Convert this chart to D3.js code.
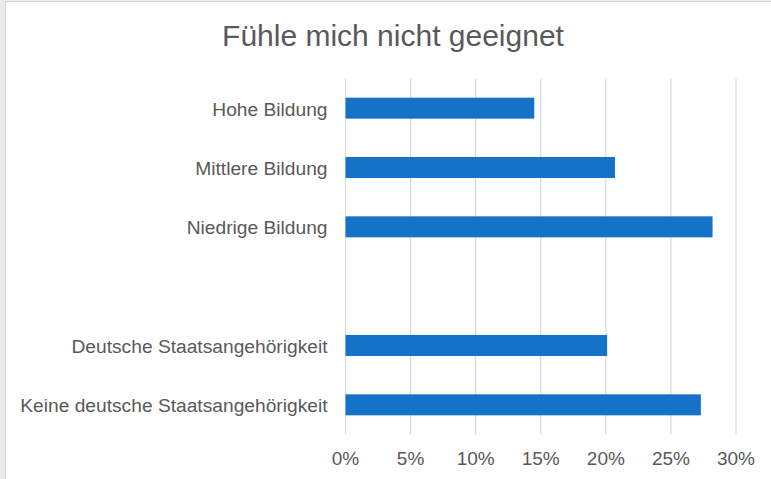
<!DOCTYPE html>
<html>
<head>
<meta charset="utf-8">
<script src="https://cdn.jsdelivr.net/npm/d3@7"></script>
<style>
  html, body { margin: 0; padding: 0; background: #ebebeb; }
  svg { display: block; }
</style>
</head>
<body>
<svg id="chart" width="771" height="479"></svg>
<script>
const categories = ["Hohe Bildung", "Mittlere Bildung", "Niedrige Bildung", "", "Deutsche Staatsangehörigkeit", "Keine deutsche Staatsangehörigkeit"];
const values = [14.5, 20.7, 28.2, null, 20.1, 27.3];
const tickValues = [0, 5, 10, 15, 20, 25, 30];
const tickLabels = ["0%", "5%", "10%", "15%", "20%", "25%", "30%"];
const title = "Fühle mich nicht geeignet";

const svg = d3.select("#chart");
const W = 771, H = 479;
const font = "'Liberation Sans', Arial, Helvetica, sans-serif";
const textColor = "#595959";

// background with frame
svg.append("rect").attr("x", 0).attr("y", 0).attr("width", W).attr("height", H).attr("fill", "#ebebeb");
svg.append("rect").attr("x", 5.5).attr("y", 1.5).attr("width", W).attr("height", H).attr("fill", "#ffffff")
  .attr("stroke", "#d6d6d6").attr("stroke-width", 1);

const plot = { left: 345.5, right: 736, top: 78.5, bottom: 434.5 };

const x = d3.scaleLinear().domain([0, 30]).range([plot.left, plot.right]);
const y = d3.scaleBand().domain(categories).range([plot.top, plot.bottom])
  .paddingInner(0.646).paddingOuter(0.323);

// gridlines
svg.append("g").selectAll("line").data(tickValues).join("line")
  .attr("x1", d => x(d)).attr("x2", d => x(d))
  .attr("y1", plot.top).attr("y2", plot.bottom)
  .attr("stroke", "#d9d9d9").attr("stroke-width", 1.2);

// bars
const data = categories.map((c, i) => ({ c, v: values[i] })).filter(d => d.v != null);
svg.append("g").selectAll("rect").data(data).join("rect")
  .attr("x", x(0))
  .attr("y", d => y(d.c))
  .attr("width", d => x(d.v) - x(0))
  .attr("height", y.bandwidth())
  .attr("fill", "#1573c7");

// category labels
svg.append("g").selectAll("text").data(categories.filter(c => c !== "")).join("text")
  .attr("x", plot.left - 18)
  .attr("y", d => y(d) + y.bandwidth() / 2 + 7.5)
  .attr("text-anchor", "end")
  .attr("font-family", font).attr("font-size", 19.2)
  .attr("fill", textColor)
  .text(d => d);

// x tick labels
svg.append("g").selectAll("text").data(tickValues).join("text")
  .attr("x", d => x(d))
  .attr("y", 465)
  .attr("text-anchor", "middle")
  .attr("font-family", font).attr("font-size", 19)
  .attr("fill", textColor)
  .text((d, i) => tickLabels[i]);

// title
svg.append("text")
  .attr("x", 393).attr("y", 45.5)
  .attr("text-anchor", "middle")
  .attr("font-family", font).attr("font-size", 30)
  .attr("fill", textColor)
  .text(title);
</script>
</body>
</html>
